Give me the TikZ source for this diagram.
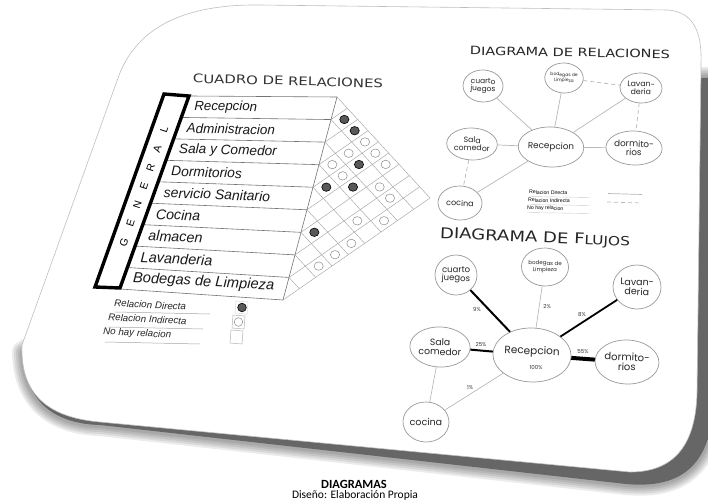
\documentclass[tikz,border=0pt]{standalone}
\usepackage{fontspec}
\usepackage{graphicx}
\setmainfont{DejaVu Sans}
\newfontfamily\tabf{Liberation Sans}
\newfontfamily\popf{Poppins}
\newfontfamily\capf{Carlito}
\usetikzlibrary{calc,shapes.geometric}
\newcommand\fsz[1]{\fontsize{#1}{#1}\selectfont}
\begin{document}
\begin{tikzpicture}[x=1pt,y=-1pt,
  rowline/.style={draw=black!55, line width=0.6pt},
  gridline/.style={draw=black!35, line width=0.45pt},
  rowtxt/.style={anchor=west, inner sep=0pt, text=black!90},
  rnode/.style={ellipse, draw=black!40, line width=0.7pt, inner sep=0pt, align=center, text=black!85, fill=white},
  rel/.style={draw=black!28, line width=0.7pt},
  reldash/.style={rel, dash pattern=on 4pt off 3pt},
  flowthick/.style={draw=black, line width=2pt},
  flowthin/.style={draw=black!30, line width=0.6pt},
  pct/.style={inner sep=0pt, font=\popf\fsz{5.5}, text=black!80},
  dotfull/.style={draw=black, fill=black!65, line width=0.6pt},
  dotopen/.style={draw=black!45, fill=white, line width=0.5pt},
  legtxt/.style={anchor=west, inner sep=0pt, font=\tabf\itshape\fsz{9.8}, rotate=-3, text=black!85},
  legline/.style={draw=black!35, line width=0.5pt},
  titlenode/.style={inner sep=0pt, text=black!85}
]
\useasboundingbox (0,0) rectangle (708,502);
\clip (0,0) rectangle (708,502);
\fill[white] (0,0) rectangle (708,502);

% ---------- shadow and page ----------
\def\shadpath{(60,330) -- (23,352) .. controls (24,404) and (58,424) .. (100,425) -- (626,484) .. controls (690,490) and (714,456) .. (714,392) -- (712,78) -- (650,78) -- cycle}
\foreach \w in {22,18,14,10,6} {\draw[line width=\w pt, line join=round, black, opacity=0.08] \shadpath;}
\fill[black!60] \shadpath;
\def\pagepath{(260,5) -- (668,10) .. controls (692,12) and (702,30) .. (701,62) -- (697,392) .. controls (696,440) and (678,472) .. (630,472) -- (100,422) .. controls (55,418) and (20,400) .. (22,345) -- (118,78) .. controls (135,30) and (180,4) .. (260,5) -- cycle}
\fill[white] \pagepath;
\draw[black!25, line width=0.6pt] \pagepath;

% ---------- CUADRO DE RELACIONES ----------
\node[titlenode, rotate=-1.5, text=black!80] (t1) at (288,81) {\resizebox{190pt}{8.8pt}{CUADRO DE RELACIONES}};

\coordinate (TL) at (189,96);
\coordinate (BL) at (120,289);
\coordinate (TR) at (337,97);
\coordinate (BR) at (283,300);
\foreach \i in {0,...,9} {
  \pgfmathsetmacro\fr{\i/9}
  \draw[rowline] ($(TL)!\fr!(BL)$) -- ($(TR)!\fr!(BR)$);
}
\draw[rowline] (TR) -- (BR);

% diamond grid
\foreach \k in {0,...,9} {
  \pgfmathsetmacro\ax{337-6*\k}
  \pgfmathsetmacro\ay{97+22.556*\k}
  \pgfmathsetmacro\bx{337-6*(9+\k)/2+26.667*(9-\k)/2}
  \pgfmathsetmacro\by{97+22.556*(9+\k)/2-0.111*(9-\k)/2}
  \pgfmathsetmacro\cx{337-6*\k/2+26.667*\k/2}
  \pgfmathsetmacro\cy{97+22.556*\k/2-0.111*\k/2}
  \draw[gridline] (\ax,\ay) -- (\bx,\by);
  \draw[gridline] (\ax,\ay) -- (\cx,\cy);
}
\foreach \i/\m in {0/3,1/3,0/4,2/3,0/5,2/4,1/6,1/7,3/7,2/8,4/8,5/8,6/8} {
  \pgfmathsetmacro\gx{(\m-\i)/2}
  \pgfmathsetmacro\gy{(\i+\m+1)/2}
  \pgfmathsetmacro\px{337-6*\gy+26.667*\gx}
  \pgfmathsetmacro\py{97+22.556*\gy-0.111*\gx}
  \filldraw[dotopen] (\px,\py) ellipse (4.6 and 4.2);
}
\foreach \i/\m in {0/1,0/2,1/4,3/4,2/5,5/6} {
  \pgfmathsetmacro\gx{(\m-\i)/2}
  \pgfmathsetmacro\gy{(\i+\m+1)/2}
  \pgfmathsetmacro\px{337-6*\gy+26.667*\gx}
  \pgfmathsetmacro\py{97+22.556*\gy-0.111*\gx}
  \filldraw[dotfull] (\px,\py) ellipse (4.6 and 4.2);
}

% GENERAL box
\draw[line width=3.4pt, line join=miter] (164,94) -- (189,96) -- (120,288) -- (95,287) -- cycle;
\foreach \j/\c in {0/G,1/E,2/N,3/E,4/R,5/A,6/L} {
  \pgfmathsetmacro\gpos{0.238+0.0968*\j}
  \node[rotate=72, font=\tabf\fsz{10.5}, inner sep=0pt] (gl\j) at ($(107.5,288)+\gpos*(69,-193)$) {\c};
}

% row labels
\foreach \i/\txt in {0/Recepcion,1/Administracion,2/Sala y Comedor,3/Dormitorios,4/servicio Sanitario,5/Cocina,6/almacen,7/Lavanderia,8/Bodegas de Limpieza} {
  \pgfmathsetmacro\fr{(\i+0.5)/9}
  \pgfmathsetmacro\fs{13.3+1.4*\i/8}
  \pgfmathsetmacro\ang{-(1+2.2*\i/8)}
  \node[rowtxt, rotate=\ang, font=\tabf\itshape\fontsize{\fs}{\fs}\selectfont] (row\i) at ($(TL)!\fr!(BL)+(9,0)$) {\txt};
}

% legend (left)
\node[legtxt] (lt1) at (114,303) {Relacion Directa};
\node[legtxt] (lt2) at (108,317) {Relacion Indirecta};
\node[legtxt] (lt3) at (103,332) {No hay relacion};
\draw[legline] (115,312) -- (210,314);
\draw[legline] (108,327) -- (203,329);
\draw[legline] (105,342) -- (200,344);
\draw[draw=black!15, line width=0.5pt] (236,301) -- (248,302) -- (247,314) -- (235,313) -- cycle;
\draw[draw=black!30, line width=0.5pt] (233,315) -- (245,316) -- (244,329) -- (232,328) -- cycle;
\draw[draw=black!30, line width=0.5pt] (231,330) -- (243,331) -- (242,344) -- (230,343) -- cycle;
\filldraw[dotfull] (242,307.5) ellipse (4.3 and 4.3);
\filldraw[dotopen] (238.5,322) ellipse (4.3 and 4.3);

% ---------- DIAGRAMA DE RELACIONES ----------
\node[titlenode, rotate=-1] (t2) at (570,52.5) {\resizebox{200pt}{8.5pt}{DIAGRAMA DE RELACIONES}};

\node[rnode, rotate=-2, minimum width=40pt, minimum height=32pt, font=\popf\fsz{7.5}] (rcu) at (483,86) {cuarto\\juegos};
\node[rnode, rotate=-2, minimum width=38pt, minimum height=30pt, font=\popf\fsz{4.5}] (rbo) at (564,78) {bodegas de\\Limpieza};
\node[rnode, rotate=-2, minimum width=42pt, minimum height=30pt, font=\popf\fsz{7.8}] (rla) at (641,88) {Lavan-\\deria};
\node[rnode, rotate=-2, minimum width=40pt, minimum height=32pt, font=\popf\fsz{7.8}] (rsa) at (472,144) {Sala\\comedor};
\node[rnode, rotate=-2, minimum width=54pt, minimum height=40pt, font=\popf\fsz{8.8}] (rre) at (551,147) {Recepcion};
\node[rnode, rotate=-2, minimum width=44pt, minimum height=34pt, font=\popf\fsz{8.8}] (rdo) at (634,148) {dormito-\\rios};
\node[rnode, rotate=-2, minimum width=44pt, minimum height=34pt, font=\popf\fsz{8}] (rco) at (460,203) {cocina};

\draw[rel] (rcu) -- (rre);
\draw[rel] (rbo) -- (rre);
\draw[rel] (rla) -- (rre);
\draw[rel] (rsa) -- (rre);
\draw[rel] (rre) -- (rdo);
\draw[rel] (rre) -- (rco);
\draw[reldash] (rbo) -- (rla);
\draw[reldash] (rla) -- (rdo);
\draw[reldash] (rsa) -- (rco);

\node[anchor=west, inner sep=0pt, font=\tabf\fsz{5.2}, rotate=-1.5] (lg1) at (529,192) {Relacion Directa};
\node[anchor=west, inner sep=0pt, font=\tabf\fsz{5.2}, rotate=-1.5] (lg2) at (528,200) {Relacion Indirecta};
\node[anchor=west, inner sep=0pt, font=\tabf\fsz{5.2}, rotate=-1.5] (lg3) at (527,208) {No hay relacion};
\draw[draw=black!20, line width=0.4pt] (529,196.5) -- (590,197.5);
\draw[draw=black!20, line width=0.4pt] (528,204.5) -- (590,205.5);
\draw[draw=black!20, line width=0.4pt] (527,212.5) -- (590,213.5);
\coordinate (ls1a) at (608,193.5);
\coordinate (ls1b) at (642,194.5);
\coordinate (ls2a) at (607,202);
\coordinate (ls2b) at (642,203);
\draw[rel] (ls1a) -- (ls1b);
\draw[reldash] (ls2a) -- (ls2b);

% ---------- DIAGRAMA DE FLUJOS ----------
\node[titlenode, rotate=-2.5] (t3) at (535,238) {\resizebox{190pt}{11pt}{DIAGRAMA DE F{\fsz{8.5}LUJOS}}};

\node[rnode, rotate=-2, minimum width=42pt, minimum height=40pt, font=\popf\fsz{8.5}] (fcu) at (456,275) {cuarto\\juegos};
\node[rnode, rotate=-2, minimum width=44pt, minimum height=38pt, font=\popf\fsz{5.5}] (fbo) at (545,267) {bodegas de\\Limpieza};
\node[rnode, rotate=-2, minimum width=48pt, minimum height=44pt, font=\popf\fsz{9.5}] (fla) at (637,287) {Lavan-\\deria};
\node[rnode, rotate=-2, minimum width=44pt, minimum height=40pt, font=\popf\fsz{9.3}] (fsa) at (440,347) {Sala\\comedor};
\node[rnode, rotate=-2, minimum width=62pt, minimum height=54pt, font=\popf\fsz{10.5}, text depth=9pt] (fre) at (532,355) {Recepcion};
\node[rnode, rotate=-2, minimum width=48pt, minimum height=44pt, font=\popf\fsz{10}] (fdo) at (627,362) {dormito-\\rios};
\node[rnode, rotate=-2, minimum width=46pt, minimum height=40pt, font=\popf\fsz{9.5}] (fco) at (426,422) {cocina};
\node[pct] (p100) at (536,368) {100\%};

\draw[flowthick] (fcu) -- (fre);
\draw[flowthin] (fbo) -- (fre);
\draw[flowthick, line width=1.8pt] (fla) -- (fre);
\draw[flowthick] (fsa) -- (fre);
\draw[flowthick, line width=4pt] (fre) -- (fdo);
\draw[flowthin] (fre) -- (fco);
\draw[flowthin] (fsa) -- (fco);

\node[pct] (p9) at (477,310) {9\%};
\node[pct] (p2) at (547,307) {2\%};
\node[pct] (p8) at (582,315) {8\%};
\node[pct] (p25) at (481,345) {25\%};
\node[pct] (p55) at (583,352) {55\%};
\node[pct] (p1) at (470,388) {1\%};

% ---------- caption ----------
\node[font=\capf\bfseries\fsz{12.5}, inner sep=0pt] (cap1) at (354,484) {DIAGRAMAS};
\node[font=\capf\fsz{11.5}, inner sep=0pt] (cap2) at (355,495.5) {Diseño: Elaboración Propia};
\end{tikzpicture}
\end{document}
